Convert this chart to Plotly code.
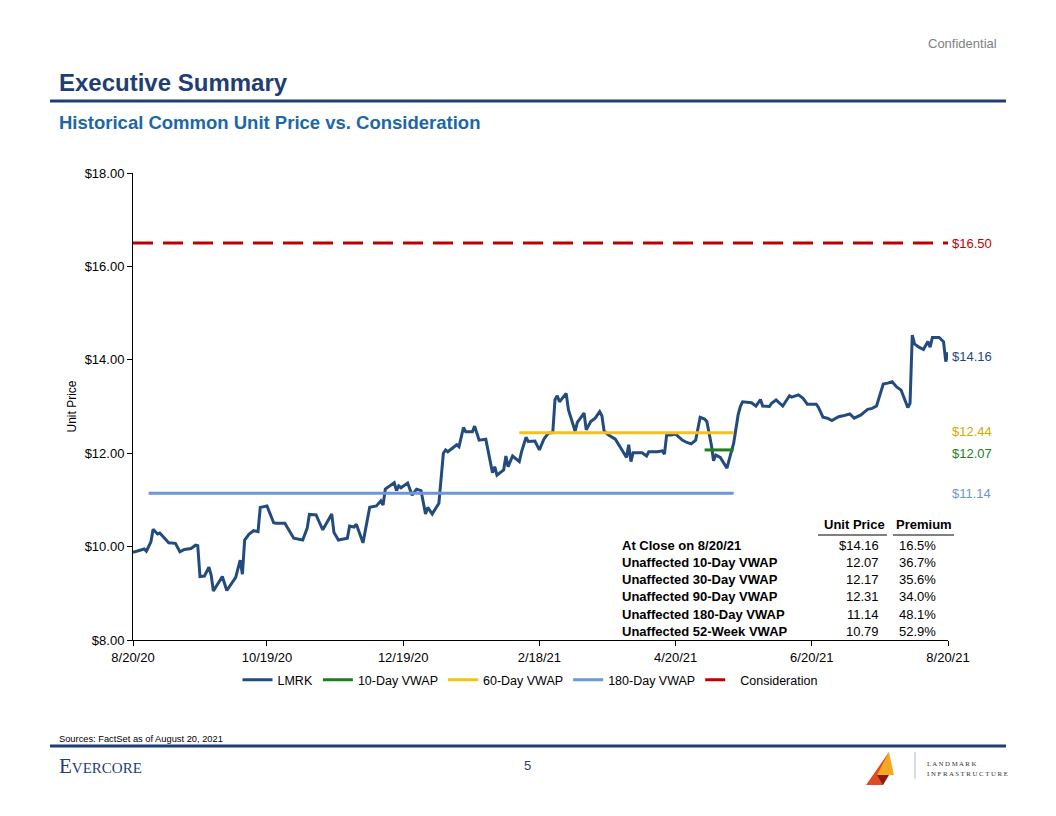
import pandas as pd
import plotly.graph_objects as go

# ---------------- data ----------------
start_date = "2020-08-20"
# LMRK closing price, x = days since 8/20/20
lmrk_days = [0, 5, 6, 8, 9, 11, 12, 14, 16, 19, 21, 23, 26, 28, 29, 30, 32, 34, 35, 36,
             40, 42, 46, 48, 49, 50, 52, 54, 56, 57, 60, 63, 64, 68, 72, 76, 78, 79, 82, 83,
             85, 89, 90, 92, 96, 97, 99, 100, 103, 106, 109, 111, 112, 113, 117, 118, 119, 120, 123, 125,
             127, 129, 131, 132, 134, 137, 139, 140, 141, 145, 146, 148, 149, 152, 153, 155, 158, 161, 162, 163,
             166, 167, 168, 170, 173, 174, 176, 177, 180, 182, 184, 186, 188, 189, 190, 191, 194, 195, 198, 199,
             202, 203, 205, 207, 209, 210, 211, 213, 216, 219, 221, 222, 223, 224, 228, 230, 231, 235, 237, 238,
             239, 241, 243, 246, 248, 250, 251, 252, 254, 256, 257, 258, 259, 260, 261, 263, 266, 267, 269, 271,
             272, 273, 277, 279, 281, 282, 285, 286, 288, 291, 294, 295, 298, 300, 302, 306, 307, 309, 311, 313,
             316, 318, 321, 323, 326, 329, 331, 333, 336, 338, 340, 342, 344, 347, 348, 349, 350, 352, 354, 356,
             357, 358, 361, 363, 364, 365]
lmrk_price = [9.88, 9.95, 9.90, 10.10, 10.37, 10.27, 10.29, 10.18, 10.08, 10.07, 9.89, 9.94, 9.96, 10.03, 10.02, 9.36, 9.37, 9.56, 9.39, 9.05,
              9.36, 9.06, 9.34, 9.71, 9.41, 10.14, 10.27, 10.34, 10.32, 10.84, 10.87, 10.51, 10.50, 10.50, 10.18, 10.14, 10.39, 10.69, 10.68, 10.57,
              10.36, 10.70, 10.30, 10.14, 10.18, 10.44, 10.42, 10.48, 10.08, 10.84, 10.87, 10.98, 10.89, 11.23, 11.37, 11.20, 11.30, 11.26, 11.36, 11.10,
              11.23, 11.20, 10.70, 10.84, 10.70, 10.93, 12.00, 12.07, 12.03, 12.18, 12.14, 12.55, 12.46, 12.46, 12.58, 12.28, 12.30, 11.58, 11.71, 11.53,
              11.64, 11.94, 11.71, 11.94, 11.82, 12.03, 12.34, 12.25, 12.26, 12.07, 12.30, 12.43, 12.44, 13.15, 13.23, 13.10, 13.28, 12.93, 12.47, 12.66,
              12.86, 12.50, 12.68, 12.75, 12.89, 12.80, 12.47, 12.39, 12.30, 12.07, 11.91, 12.18, 11.82, 12.01, 12.01, 11.94, 12.03, 12.03, 12.05, 11.98,
              12.39, 12.39, 12.41, 12.28, 12.23, 12.20, 12.25, 12.28, 12.77, 12.73, 12.68, 12.43, 12.18, 11.84, 11.96, 11.91, 11.68, 11.86, 12.21, 12.82,
              13.00, 13.10, 13.08, 13.01, 13.15, 13.01, 13.00, 13.07, 13.14, 13.01, 13.23, 13.20, 13.25, 13.18, 13.05, 13.05, 12.98, 12.77, 12.75, 12.70,
              12.78, 12.80, 12.84, 12.75, 12.82, 12.94, 12.96, 13.01, 13.48, 13.50, 13.53, 13.42, 13.35, 12.98, 13.07, 14.53, 14.34, 14.27, 14.22, 14.39,
              14.27, 14.48, 14.48, 14.39, 13.96, 14.16]

# Reference levels: [start day, end day, value]
vwap10 = [256, 269, 12.07]
vwap60 = [173, 269, 12.44]
vwap180 = [7, 269, 11.14]
consideration = [0, 365, 16.50]

x_tick_dates = ["2020-08-20", "2020-10-19", "2020-12-19", "2021-02-18", "2021-04-20", "2021-06-20", "2021-08-20"]
x_tick_labels = ["8/20/20", "10/19/20", "12/19/20", "2/18/21", "4/20/21", "6/20/21", "8/20/21"]
y_ticks = [8, 10, 12, 14, 16, 18]

table_rows = ["At Close on 8/20/21", "Unaffected 10-Day VWAP", "Unaffected 30-Day VWAP",
              "Unaffected 90-Day VWAP", "Unaffected 180-Day VWAP", "Unaffected 52-Week VWAP"]
table_price = ["$14.16", "12.07", "12.17", "12.31", "11.14", "10.79"]
table_premium = ["16.5%", "36.7%", "35.6%", "34.0%", "48.1%", "52.9%"]

# ---------------- styling ----------------
NAVY = "#1F497D"
LINE_NAVY = "#234B7E"
GREEN = "#1E7F1E"
GOLD = "#F2C515"
LBLUE = "#6B97D6"
RED = "#C00000"
FONT = "Liberation Sans, Arial, sans-serif"

t0 = pd.Timestamp(start_date)
def d(days):
    return t0 + pd.to_timedelta(days, unit="D")

W, H = 1056, 816
L, R, T, B = 133, 948, 173, 640
def px(x):
    return (x - L) / (R - L)
def py(y):
    return (B - y) / (B - T)

fig = go.Figure()
fig.add_trace(go.Scatter(x=d(pd.Series(lmrk_days)), y=lmrk_price, mode="lines", name="LMRK",
                         line=dict(color=LINE_NAVY, width=3)))
for seg, name, col, dash in [(vwap10, "10-Day VWAP", GREEN, "solid"),
                             (vwap60, "60-Day VWAP", GOLD, "solid"),
                             (vwap180, "180-Day VWAP", LBLUE, "solid"),
                             (consideration, "Consideration", RED, "20px,10px")]:
    fig.add_trace(go.Scatter(x=[d(seg[0]), d(seg[1])], y=[seg[2], seg[2]], mode="lines", name=name,
                             line=dict(color=col, width=3, dash=dash)))

ann = []
# right-side value labels
for val, col, dy in [(consideration[2], RED, 0), (lmrk_price[-1], NAVY, -0.08), (vwap60[2], "#D4A900", 0.03),
                     (vwap10[2], GREEN, -0.07), (vwap180[2], LBLUE, 0)]:
    ann.append(dict(xref="paper", yref="y", x=1.002, y=val + dy, text=f"${val:.2f}", showarrow=False,
                    xanchor="left", yanchor="middle", font=dict(size=13, color=col, family=FONT)))

# table
TF = 13
hdr_y = py(524)
ann.append(dict(xref="paper", yref="paper", x=px(887), y=hdr_y, text="<b>Unit Price</b>", showarrow=False,
                xanchor="right", yanchor="middle", font=dict(size=TF, color="black", family=FONT)))
ann.append(dict(xref="paper", yref="paper", x=px(954), y=hdr_y, text="<b>Premium</b>", showarrow=False,
                xanchor="right", yanchor="middle", font=dict(size=TF, color="black", family=FONT)))
for i, (lab, pr, pm) in enumerate(zip(table_rows, table_price, table_premium)):
    yy = py(545 + i * 17.3)
    ann.append(dict(xref="paper", yref="paper", x=px(620), y=yy, text=f"<b>{lab}</b>", showarrow=False,
                    xanchor="left", yanchor="middle", font=dict(size=TF, color="black", family=FONT)))
    ann.append(dict(xref="paper", yref="paper", x=px(881), y=yy, text=pr, showarrow=False,
                    xanchor="right", yanchor="middle", font=dict(size=TF, color="black", family=FONT)))
    ann.append(dict(xref="paper", yref="paper", x=px(938), y=yy, text=pm, showarrow=False,
                    xanchor="right", yanchor="middle", font=dict(size=TF, color="black", family=FONT)))

# page texts
ann += [
    dict(xref="paper", yref="paper", x=px(999), y=py(44), text="Confidential", showarrow=False,
         xanchor="right", yanchor="middle", font=dict(size=13, color="#7F7F7F", family=FONT)),
    dict(xref="paper", yref="paper", x=px(57), y=py(82), text="<b>Executive Summary</b>", showarrow=False,
         xanchor="left", yanchor="middle", font=dict(size=24, color="#1F3E74", family=FONT)),
    dict(xref="paper", yref="paper", x=px(57), y=py(122), text="<b>Historical Common Unit Price vs. Consideration</b>",
         showarrow=False, xanchor="left", yanchor="middle", font=dict(size=18.5, color="#1C68A6", family=FONT)),
    dict(xref="paper", yref="paper", x=px(57), y=py(739), text="Sources: FactSet as of August 20, 2021",
         showarrow=False, xanchor="left", yanchor="middle", font=dict(size=9.3, color="black", family=FONT)),
    dict(xref="paper", yref="paper", x=px(57), y=py(766),
         text="<span style='font-size:21px'>E</span>VERCORE", showarrow=False,
         xanchor="left", yanchor="middle", font=dict(size=15, color="#1F3E74", family="Liberation Serif, serif")),
    dict(xref="paper", yref="paper", x=px(527), y=py(765), text="5", showarrow=False,
         xanchor="center", yanchor="middle", font=dict(size=13, color="#1F3E74", family=FONT)),
    dict(xref="paper", yref="paper", x=px(925), y=py(763), text="L A N D M A R K", showarrow=False,
         xanchor="left", yanchor="middle", font=dict(size=6.8, color="#333333", family="Liberation Serif, serif")),
    dict(xref="paper", yref="paper", x=px(925), y=py(773), text="I N F R A S T R U C T U R E", showarrow=False,
         xanchor="left", yanchor="middle", font=dict(size=6.8, color="#333333", family="Liberation Serif, serif")),
]

def path(pts):
    return "M " + " L ".join(f"{px(a):.5f},{py(b):.5f}" for a, b in pts) + " Z"

shapes = [
    # header rule
    dict(type="line", xref="paper", yref="paper", x0=px(50), x1=px(1006), y0=py(101), y1=py(101),
         line=dict(color="#1F3E74", width=3)),
    # footer rule
    dict(type="line", xref="paper", yref="paper", x0=px(50), x1=px(1006), y0=py(746), y1=py(746),
         line=dict(color="#1F3E74", width=3)),
    # table underlines
    dict(type="line", xref="paper", yref="paper", x0=px(818), x1=px(887), y0=py(535), y1=py(535),
         line=dict(color="black", width=1)),
    dict(type="line", xref="paper", yref="paper", x0=px(893), x1=px(954), y0=py(535), y1=py(535),
         line=dict(color="black", width=1)),
    # logo
    dict(type="path", xref="paper", yref="paper", path=path([(866, 785), (883, 785), (889, 752)]),
         fillcolor="#E04B26", line=dict(width=0)),
    dict(type="path", xref="paper", yref="paper", path=path([(889, 752), (894, 775), (877, 775)]),
         fillcolor="#F7A823", line=dict(width=0)),
    dict(type="path", xref="paper", yref="paper", path=path([(877, 775), (889, 775), (883, 785)]),
         fillcolor="#8B1A12", line=dict(width=0)),
    dict(type="line", xref="paper", yref="paper", x0=px(915), x1=px(915), y0=py(752), y1=py(779),
         line=dict(color="#BBBBBB", width=1)),
]

fig.update_layout(
    width=W, height=H,
    margin=dict(l=L, r=W - R, t=T, b=H - B, pad=0),
    paper_bgcolor="white", plot_bgcolor="white",
    font=dict(family=FONT, size=12, color="black"),
    showlegend=True,
    legend=dict(orientation="h", x=px(530), xanchor="center", y=py(680), yanchor="middle",
                font=dict(size=12.5, family=FONT, color="black"), itemwidth=30, tracegroupgap=0),
    annotations=ann, shapes=shapes,
    xaxis=dict(range=[d(0), d(365)], tickvals=pd.to_datetime(x_tick_dates), ticktext=x_tick_labels,
               showgrid=False, zeroline=False, showline=True, linecolor="black", linewidth=1,
               ticks="outside", ticklen=5, tickcolor="black", tickfont=dict(size=13, family=FONT)),
    yaxis=dict(range=[8, 18], tickvals=y_ticks, ticktext=[f"${v:.2f}" for v in y_ticks],
               showgrid=False, zeroline=False, showline=True, linecolor="black", linewidth=1,
               ticks="outside", ticklen=5, tickcolor="black", tickfont=dict(size=13, family=FONT),
               title=dict(text="Unit Price", font=dict(size=12, family=FONT), standoff=5)),
)

fig.write_html("out.html", config={"displayModeBar": False},
               post_script="document.body.style.margin='0';document.body.style.overflow='hidden';")
